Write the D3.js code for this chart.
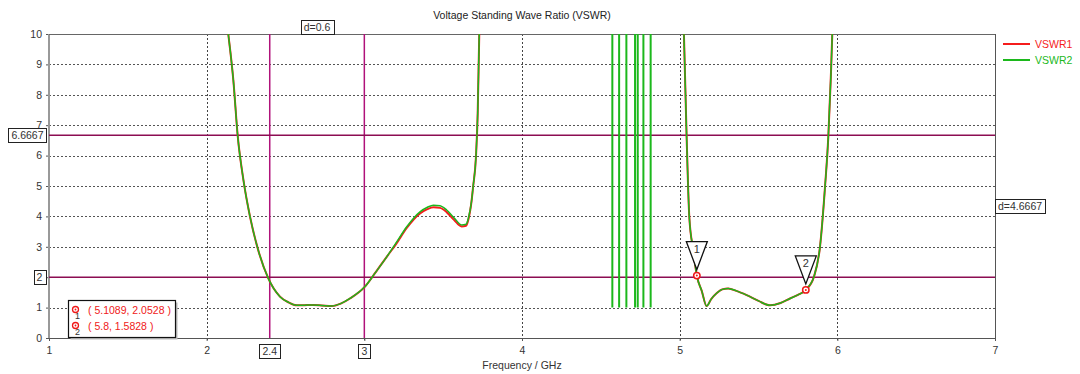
<!DOCTYPE html>
<html>
<head>
<meta charset="utf-8">
<script src="https://cdn.jsdelivr.net/npm/d3@7"></script>
<style>
    body { margin: 0; background: #fff; }
    svg { display: block; font-family: "Liberation Sans", Arial, sans-serif; }
</style>
</head>
<body>
<div id="chart"></div>
<script>
// Data
const xTicks = [1, 2, 3, 4, 5, 6, 7];
const yTicks = [0, 1, 2, 3, 4, 5, 6, 7, 8, 9, 10];

// lower band (2.1 - 3.74 GHz)
const freqA = [2.10, 2.137, 2.169, 2.197, 2.233, 2.275, 2.327, 2.391, 2.465, 2.52, 2.571, 2.62, 2.676, 2.73, 2.793, 2.85, 2.909, 3.004, 3.07, 3.142, 3.2, 3.269, 3.353, 3.40, 3.438, 3.48, 3.522, 3.57, 3.617, 3.645, 3.66, 3.68, 3.69, 3.708, 3.719, 3.729, 3.74];
const vswr1A = [11.5, 10.0, 8.49, 6.64, 5.2, 3.99, 2.89, 1.96, 1.36, 1.17, 1.075, 1.08, 1.085, 1.07, 1.05, 1.13, 1.30, 1.69, 2.15, 2.67, 3.08, 3.62, 4.10, 4.24, 4.30, 4.28, 4.14, 3.88, 3.67, 3.69, 3.90, 4.5, 4.98, 5.96, 7.39, 10.0, 12];
const vswr2A = [11.5, 10.0, 8.49, 6.64, 5.2, 3.99, 2.89, 1.96, 1.36, 1.17, 1.075, 1.08, 1.085, 1.07, 1.05, 1.13, 1.30, 1.69, 2.15, 2.67, 3.12, 3.66, 4.15, 4.30, 4.37, 4.35, 4.21, 3.95, 3.72, 3.74, 3.94, 4.5, 4.98, 5.96, 7.39, 10.0, 12];

// upper band (5.02 - 5.98 GHz), both traces overlap
const freqB = [5.02, 5.027, 5.044, 5.061, 5.086, 5.1089, 5.14, 5.171, 5.20, 5.234, 5.27, 5.308, 5.36, 5.425, 5.50, 5.573, 5.64, 5.70, 5.75, 5.80, 5.852, 5.89, 5.922, 5.943, 5.958, 5.968, 5.975];
const vswr1B = [11.5, 10.0, 6.64, 3.99, 2.89, 2.0528, 1.55, 1.05, 1.28, 1.47, 1.60, 1.63, 1.55, 1.41, 1.22, 1.075, 1.15, 1.30, 1.42, 1.5828, 2.02, 3.0, 4.98, 6.64, 8.49, 10.0, 11.5];
const vswr2B = [11.5, 10.0, 6.64, 3.99, 2.89, 2.0528, 1.55, 1.05, 1.28, 1.47, 1.60, 1.63, 1.55, 1.41, 1.22, 1.075, 1.15, 1.30, 1.42, 1.5828, 2.02, 3.0, 4.98, 6.64, 8.49, 10.0, 11.5];

// VSWR2 spikes between the bands
const spikeFreqs = [4.573, 4.616, 4.662, 4.717, 4.734, 4.770, 4.816];
const spikeLows = [1.0, 1.0, 1.0, 1.0, 1.0, 1.0, 1.0];

// markers and cursor lines
const markers = [{ id: 1, f: 5.1089, v: 2.0528 }, { id: 2, f: 5.8, v: 1.5828 }];
const xCursors = [2.4, 3];
const yCursors = [6.6667, 2];

const width = 1080, height = 374;
const margin = { left: 49, right: 85, top: 34, bottom: 36 };

const x = d3.scaleLinear().domain([1, 7]).range([margin.left, width - margin.right]);
const y = d3.scaleLinear().domain([0, 10]).range([height - margin.bottom, margin.top]);

const svg = d3.select("#chart").append("svg")
    .attr("width", width)
    .attr("height", height);

svg.append("defs").append("clipPath")
    .attr("id", "plot-clip")
    .append("rect")
    .attr("x", x(1))
    .attr("y", y(10))
    .attr("width", x(7) - x(1))
    .attr("height", y(0) - y(10));

// Title
svg.append("text")
    .attr("x", (x(1) + x(7)) / 2)
    .attr("y", 19)
    .attr("text-anchor", "middle")
    .attr("fill", "#222")
    .style("font-size", "10.5px")
    .text("Voltage Standing Wave Ratio (VSWR)");

// Grid
const grid = svg.append("g").attr("class", "grid");
grid.selectAll("line.gx")
    .data(xTicks.slice(1, -1))
    .join("line")
    .attr("class", "gx")
    .attr("x1", d => Math.round(x(d)) + 0.5)
    .attr("x2", d => Math.round(x(d)) + 0.5)
    .attr("y1", y(10))
    .attr("y2", y(0) + 4)
    .attr("stroke", "#444")
    .attr("stroke-dasharray", "2,2");
grid.selectAll("line.gy")
    .data(yTicks.slice(1, -1))
    .join("line")
    .attr("class", "gy")
    .attr("x1", x(1))
    .attr("x2", x(7))
    .attr("y1", d => Math.round(y(d)) + 0.5)
    .attr("y2", d => Math.round(y(d)) + 0.5)
    .attr("stroke", "#555")
    .attr("stroke-dasharray", "2,2");

// Axes
const xAxis = svg.append("g")
    .attr("transform", `translate(0,${y(0)})`)
    .call(d3.axisBottom(x).tickValues(xTicks).tickFormat(d3.format("d")).tickSize(3).tickPadding(6));
const yAxis = svg.append("g")
    .attr("transform", `translate(${x(1)},0)`)
    .call(d3.axisLeft(y).tickValues(yTicks).tickFormat(d3.format("d")).tickSize(3).tickPadding(4));
[xAxis, yAxis].forEach(a => {
    a.select(".domain").remove();
    a.selectAll(".tick line").attr("stroke", "#555");
    a.selectAll(".tick text")
        .attr("fill", "#333")
        .style("font-size", "10.5px")
        .style("font-family", "Liberation Sans, Arial, sans-serif");
});

// Frame
svg.append("line")
    .attr("x1", x(1)).attr("x2", x(1)).attr("y1", y(10)).attr("y2", y(0))
    .attr("stroke", "#999").attr("stroke-width", 2);
svg.append("line")
    .attr("x1", x(1)).attr("x2", x(7)).attr("y1", y(10) + 0.5).attr("y2", y(10) + 0.5)
    .attr("stroke", "#666");
svg.append("line")
    .attr("x1", x(7) + 0.5).attr("x2", x(7) + 0.5).attr("y1", y(10)).attr("y2", y(0))
    .attr("stroke", "#555");
svg.append("line")
    .attr("x1", x(1)).attr("x2", x(7)).attr("y1", y(0) + 0.5).attr("y2", y(0) + 0.5)
    .attr("stroke", "#555");

// X label
svg.append("text")
    .attr("x", (x(1) + x(7)) / 2)
    .attr("y", 369)
    .attr("text-anchor", "middle")
    .attr("fill", "#333")
    .style("font-size", "10.5px")
    .text("Frequency / GHz");

// Cursor lines
const cursors = svg.append("g");
cursors.selectAll("line.cx")
    .data(xCursors)
    .join("line")
    .attr("class", "cx")
    .attr("x1", d => x(d)).attr("x2", d => x(d))
    .attr("y1", y(10)).attr("y2", y(0))
    .attr("stroke", "#b0127a")
    .attr("stroke-width", 1.5);
cursors.selectAll("line.cy")
    .data(yCursors)
    .join("line")
    .attr("class", "cy")
    .attr("x1", x(1)).attr("x2", x(7))
    .attr("y1", d => y(d)).attr("y2", d => y(d))
    .attr("stroke", "#8c0d52")
    .attr("stroke-width", 1.5);

// Traces
const plot = svg.append("g").attr("clip-path", "url(#plot-clip)");
const line = d3.line()
    .x(d => x(d[0]))
    .y(d => y(d[1]))
    .curve(d3.curveMonotoneX);

const series = [
    { name: "VSWR1", color: "#f51c1c", parts: [[freqA, vswr1A], [freqB, vswr1B]] },
    { name: "VSWR2", color: "#1cb81c", parts: [[freqA, vswr2A], [freqB, vswr2B]] }
];

series.forEach(s => {
    s.parts.forEach(([fs, vs]) => {
        plot.append("path")
            .datum(fs.map((f, i) => [f, vs[i]]))
            .attr("fill", "none")
            .attr("stroke", s.color)
            .attr("stroke-width", s.name === "VSWR1" ? 2 : 1.5)
            .attr("d", line);
    });
});

plot.selectAll("line.spike")
    .data(spikeFreqs.map((f, i) => [f, spikeLows[i]]))
    .join("line")
    .attr("class", "spike")
    .attr("x1", d => x(d[0])).attr("x2", d => x(d[0]))
    .attr("y1", d => y(d[1])).attr("y2", y(10))
    .attr("stroke", "#1cb81c")
    .attr("stroke-width", 2);

// Markers on trace
const mk = svg.append("g");
markers.forEach(m => {
    const px = x(m.f), py = y(m.v);
    mk.append("path")
        .attr("d", `M${px - 10.5},${py - 34} L${px + 10.5},${py - 34} L${px},${py - 6} Z`)
        .attr("fill", "#fff")
        .attr("stroke", "#111")
        .attr("stroke-width", 1.3);
    mk.append("text")
        .attr("x", px)
        .attr("y", py - 23)
        .attr("text-anchor", "middle")
        .attr("fill", "#333")
        .style("font-size", "11px")
        .text(m.id);
    mk.append("circle")
        .attr("cx", px).attr("cy", py).attr("r", 3.2)
        .attr("fill", "#fff").attr("stroke", "#f01818").attr("stroke-width", 1.5);
    mk.append("circle")
        .attr("cx", px).attr("cy", py).attr("r", 1)
        .attr("fill", "#f01818");
});

// Boxed labels
function boxLabel(cx, cy, text, anchor) {
    const g = svg.append("g");
    const t = g.append("text")
        .attr("x", cx)
        .attr("y", cy + 4)
        .attr("text-anchor", anchor || "middle")
        .attr("fill", "#333")
        .style("font-size", "10.5px")
        .text(text);
    const b = t.node().getBBox();
    g.insert("rect", "text")
        .attr("x", Math.round(b.x - 3) + 0.5)
        .attr("y", Math.round(cy - 7) + 0.5)
        .attr("width", Math.round(b.width + 6))
        .attr("height", 14)
        .attr("fill", "#fff")
        .attr("stroke", "#222");
}

boxLabel(27.5, y(yCursors[0]), "6.6667");
boxLabel(39.5, y(yCursors[1]), "2");
xCursors.forEach(c => boxLabel(x(c), 351, String(c)));
boxLabel((x(xCursors[0]) + x(xCursors[1])) / 2, 27, "d=" + d3.format(".1f")(xCursors[1] - xCursors[0]));
boxLabel(x(7) + 3, (y(yCursors[0]) + y(yCursors[1])) / 2, "d=" + d3.format(".4f")(yCursors[0] - yCursors[1]), "start");

// Marker table
const table = svg.append("g");
table.append("rect")
    .attr("x", 70.5).attr("y", 302.5).attr("width", 107).attr("height", 37)
    .attr("fill", "#bbb");
table.append("rect")
    .attr("x", 68.5).attr("y", 300.5).attr("width", 107).attr("height", 37)
    .attr("fill", "#fff")
    .attr("stroke", "#111")
    .attr("stroke-width", 1.2);
markers.forEach((m, i) => {
    const ry = 310 + i * 16;
    table.append("circle")
        .attr("cx", 75.5).attr("cy", ry - 0.5).attr("r", 3)
        .attr("fill", "#fff").attr("stroke", "#f01818").attr("stroke-width", 1.3);
    table.append("circle")
        .attr("cx", 75.5).attr("cy", ry - 0.5).attr("r", 0.9)
        .attr("fill", "#f01818");
    table.append("text")
        .attr("x", 77.5).attr("y", ry + 9)
        .attr("text-anchor", "middle")
        .attr("fill", "#333")
        .style("font-size", "9px")
        .text(m.id);
    table.append("text")
        .attr("x", 88).attr("y", ry + 4)
        .attr("fill", "#f01818")
        .style("font-size", "10.5px")
        .text(`( ${m.f}, ${m.v} )`);
});

// Legend
const legend = svg.append("g");
series.forEach((s, i) => {
    const ly = 44 + i * 16;
    legend.append("line")
        .attr("x1", 1003).attr("x2", 1030)
        .attr("y1", ly).attr("y2", ly)
        .attr("stroke", s.color)
        .attr("stroke-width", 2);
    legend.append("text")
        .attr("x", 1035).attr("y", ly + 4)
        .attr("fill", s.color)
        .style("font-size", "10.5px")
        .text(s.name);
});
</script>
</body>
</html>
